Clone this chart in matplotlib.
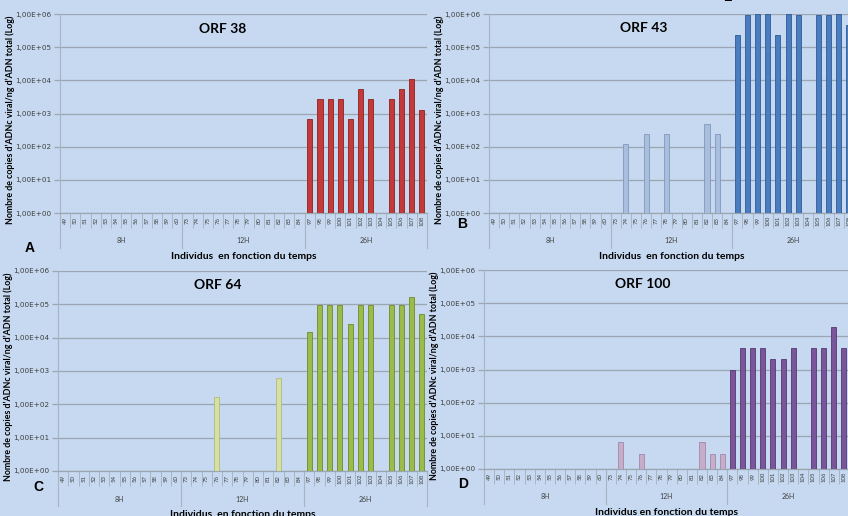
import numpy as np
import matplotlib
matplotlib.use("Agg")
import matplotlib.pyplot as plt
from matplotlib.ticker import FixedLocator, NullFormatter
import matplotlib.transforms as mtransforms

# individuals (x categories) and their time groups
individus_8h = [str(i) for i in range(49, 61)]
individus_12h = [str(i) for i in range(73, 85)]
individus_26h = [str(i) for i in range(97, 109)]
individus = individus_8h + individus_12h + individus_26h
groupes = ["8H", "12H", "26H"]

# copies of viral cDNA / ng total DNA, 0 = no bar
orf38 = [0] * 12 + [0] * 12 + [660, 2700, 2700, 2700, 660, 5300, 2700, 0, 2700, 5300, 10700, 1320]
orf43 = ([0] * 12
         + [0, 120, 0, 240, 0, 240, 0, 0, 0, 470, 240, 0]
         + [240000, 940000, 1000000, 1000000, 240000, 1000000, 940000, 0, 940000, 940000, 1000000, 470000])
orf64 = ([0] * 12
         + [0, 0, 0, 170, 0, 0, 0, 0, 0, 600, 0, 0]
         + [15000, 95000, 95000, 95000, 26000, 95000, 95000, 0, 95000, 95000, 170000, 50000])
orf100 = ([0] * 12
          + [0, 6.3, 0, 2.9, 0, 0, 0, 0, 0, 6.3, 2.9, 2.9]
          + [1000, 4500, 4500, 4500, 2100, 2100, 4500, 0, 4500, 4500, 18600, 4500])

BG = "#C6D9F0"
GRID = "#9BA6B2"
SEP = "#A8B4C2"
TXT = "#404040"

W, H = 848, 516

# (title, values, 12H colours, 26H colours, letter, axes box px, title pos, letter pos)
panels = [
    ("ORF 38", orf38, ("#D98080", "#A04040"), ("#C43A3A", "#8E2020"), "A",
     (60, 14, 367, 199), (0.444, 0.925), (30, 248), "Individus  en fonction du temps"),
    ("ORF 43", orf43, ("#A9BEDC", "#8098BC"), ("#4A7CC0", "#2F5A96"), "B",
     (489, 14, 365, 199), (0.425, 0.93), (462, 224), "Individus  en fonction du temps"),
    ("ORF 64", orf64, ("#D6E0A4", "#AEBC78"), ("#9BBB4A", "#6E8A2A"), "C",
     (58, 271, 369, 200), (0.432, 0.93), (38, 487), "Individus  en fonction du temps"),
    ("ORF 100", orf100, ("#C6AECB", "#A088A8"), ("#7A559A", "#563872"), "D",
     (484, 270, 365, 199), (0.435, 0.93), (463, 484), "Individus en fonction du temps"),
]

fig = plt.figure(figsize=(W / 100, H / 100), dpi=100, facecolor=BG)

for title, vals, c12, c26, letter, box, tpos, lpos, xlab in panels:
    x0, y0, w, h = box
    ax = fig.add_axes([x0 / W, 1 - (y0 + h) / H, w / W, h / H], facecolor=BG)
    ax.set_yscale("log")
    ax.set_ylim(1, 1e6)
    ax.set_xlim(-0.5, len(individus) - 0.5)

    vals = np.array(vals, dtype=float)
    xs = np.arange(len(individus))
    for i, v in zip(xs, vals):
        if v <= 0:
            continue
        fc, ec = c12 if i < 24 else c26
        ax.bar(i, v, width=0.5, color=fc, edgecolor=ec, linewidth=0.6, zorder=3)

    # grid & axes
    ax.set_yticks([1, 10, 100, 1e3, 1e4, 1e5, 1e6])
    ax.set_yticklabels(["1,00E+00", "1,00E+01", "1,00E+02", "1,00E+03",
                        "1,00E+04", "1,00E+05", "1,00E+06"])
    ax.yaxis.set_minor_locator(FixedLocator([]))
    ax.grid(axis="y", color=GRID, linewidth=0.9, zorder=0)
    ax.tick_params(axis="y", length=4, color=GRID, labelsize=5.2, labelcolor=TXT,
                   pad=2, width=0.9)
    for s in ["top", "right"]:
        ax.spines[s].set_visible(False)
    ax.spines["left"].set_color(SEP)
    ax.spines["bottom"].set_color(GRID)
    ax.spines["bottom"].set_linewidth(0.9)

    ax.set_xticks([])
    ax.xaxis.set_minor_locator(FixedLocator(np.arange(-0.5, len(individus), 1.0)))
    ax.xaxis.set_minor_formatter(NullFormatter())
    ax.tick_params(axis="x", which="minor", length=11, color=SEP, width=0.7)

    tr = mtransforms.blended_transform_factory(ax.transData, ax.transAxes)
    for i, lab in enumerate(individus):
        ax.text(i, -0.038, lab, rotation=90, ha="center", va="center",
                fontsize=4.3, color=TXT, transform=tr, family="Lato")
    for k, g in enumerate(groupes):
        ax.text(k * 12 + 5.5, -0.14, g, ha="center", va="center",
                fontsize=5, color=TXT, transform=tr, family="Lato")
    for b in [-0.5, 11.5, 23.5, 35.5]:
        ax.plot([b, b], [0, -0.175], color=SEP, linewidth=0.8,
                transform=tr, clip_on=False)

    ax.text(tpos[0], tpos[1], title, transform=ax.transAxes, ha="center",
            va="center", fontsize=10, fontweight="bold", family="Lato")
    ax.set_ylabel("Nombre de copies d\u2019ADNc viral/ng d\u2019ADN total (Log)",
                  fontsize=6.4, fontweight="bold", family="Lato")
    ax.yaxis.set_label_coords(-45 / w, 0.47)
    ax.set_xlabel(xlab, fontsize=7.5, fontweight="bold", family="Lato")
    ax.xaxis.set_label_coords(0.5, -0.195)

    fig.text(lpos[0] / W, 1 - lpos[1] / H, letter, ha="center", va="center",
             fontsize=10, fontweight="bold", family="Liberation Sans")

# cut-off glyph at the top edge
fig.text(727 / W, 1.004, "E", ha="center", va="center", fontsize=9,
         fontweight="bold", family="Liberation Sans")

fig.savefig("out.png", dpi=100, facecolor=BG)
